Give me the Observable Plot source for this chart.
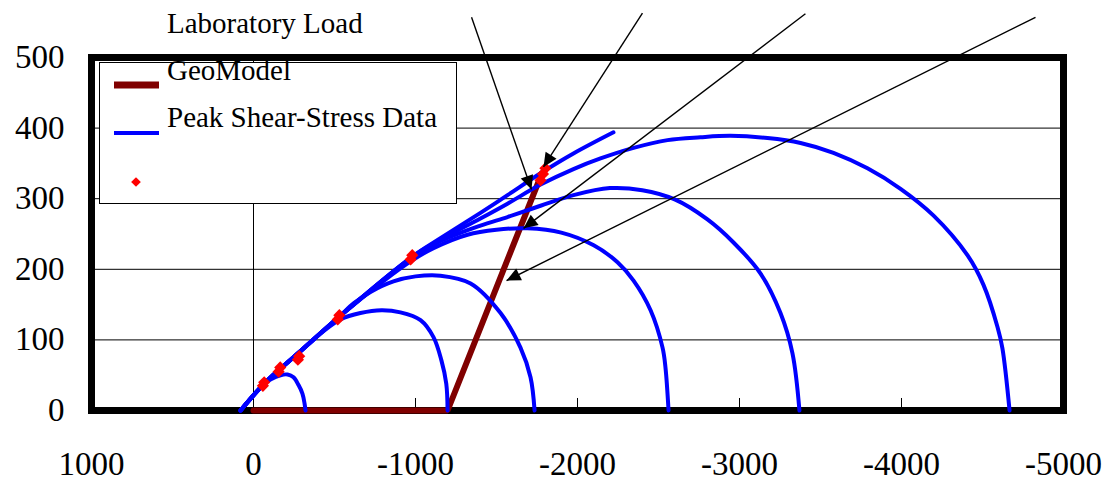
<!DOCTYPE html>
<html>
<head>
<meta charset="utf-8">
<script src="https://cdn.jsdelivr.net/npm/d3@7"></script>
<script src="https://cdn.jsdelivr.net/npm/@observablehq/plot@0.6"></script>
<style>
  html, body { margin: 0; padding: 0; background: white; }
  #wrap { position: relative; width: 1107px; height: 480px; }
  #wrap > svg { position: absolute; left: 0; top: 0; }
  #overlay { position: absolute; left: 0; top: 0; pointer-events: none; }
</style>
</head>
<body>
<div id="wrap"></div>
<script>
// ---- data ----
const xTicks = [1000, 0, -1000, -2000, -3000, -4000, -5000];
const yTicks = [0, 100, 200, 300, 400, 500];
const titleText = "Laboratory Load";
const legendLabels = ["GeoModel", "Peak Shear-Stress Data", ""];

// GeoModel load path (dark red)
const geoModel = [[0, 0], [-1198, 0], [-1780, 336]];

// Peak shear-stress envelope (blue line)
const envelope = [[80, 0], [-62, 37], [-160, 58], [-280, 82], [-525, 132], [-975, 217],
  [-1154, 244], [-1401, 280], [-1568, 305], [-1772, 336], [-1975, 364], [-2222, 394]];

// Yield surfaces (blue curves)
const surfaceA = [[80, 0], [-62, 37], [-105, 44], [-167, 50], [-210, 51], [-247, 47],
  [-278, 36], [-302, 24], [-315, 10], [-321, 0]];
const surfaceB = [[80, 0], [-62, 37], [-160, 58], [-280, 82], [-430, 112], [-537, 129],
  [-660, 138], [-790, 142], [-907, 139], [-1031, 128], [-1111, 104], [-1160, 71], [-1190, 38], [-1198, 0]];
const surfaceC = [[80, 0], [-62, 37], [-160, 58], [-280, 82], [-525, 132], [-620, 152],
  [-722, 168], [-864, 183], [-1000, 190], [-1154, 191], [-1340, 180], [-1525, 138],
  [-1648, 89], [-1710, 47], [-1735, 0]];
const surfaceD = [[80, 0], [-62, 37], [-160, 58], [-280, 82], [-525, 132], [-800, 183],
  [-975, 212], [-1111, 230], [-1321, 249], [-1500, 256], [-1690, 258], [-1900, 252],
  [-2100, 234], [-2247, 210], [-2346, 184], [-2451, 142], [-2525, 89], [-2543, 61], [-2562, 0]];
const surfaceE = [[80, 0], [-62, 37], [-160, 58], [-280, 82], [-525, 132], [-975, 216],
  [-1154, 240], [-1401, 262], [-1568, 274], [-1772, 290], [-1975, 305], [-2200, 315],
  [-2400, 312], [-2600, 299], [-2800, 271], [-2963, 238], [-3130, 194], [-3253, 138],
  [-3327, 81], [-3370, 0]];
const surfaceF = [[80, 0], [-62, 37], [-160, 58], [-280, 82], [-525, 132], [-975, 217],
  [-1154, 242], [-1401, 272], [-1568, 293], [-1772, 320], [-1975, 342], [-2142, 357],
  [-2346, 372], [-2556, 383], [-2759, 387], [-2944, 389], [-3173, 386], [-3377, 379],
  [-3580, 365], [-3790, 343], [-3994, 314], [-4198, 276], [-4407, 220], [-4506, 178],
  [-4593, 118], [-4623, 88], [-4667, 0]];

// Laboratory data points (red diamonds)
const labX = [-58, -66, -155, -165, -274, -282, -520, -530, -970, -980, -1772, -1787, -1802];
const labY = [35, 40, 55, 61, 72, 77, 129, 135, 214, 220, 326, 335, 343];

// Laboratory load arrows: tail -> tip
const arrowX1 = [-1346, -2401, -3407, -4827];
const arrowY1 = [557, 563, 562, 557];
const arrowX2 = [-1716, -1790, -1667, -1562];
const arrowY2 = [313, 345, 258, 184];

// ---- build tables ----
const surfaces = [surfaceA, surfaceB, surfaceC, surfaceD, surfaceE, surfaceF];
const surfaceRows = surfaces.flatMap((s, k) => s.map(([x, y]) => ({x, y, series: k})));
const geoRows = geoModel.map(([x, y]) => ({x, y}));
const envRows = envelope.map(([x, y]) => ({x, y}));
const labRows = labX.map((x, i) => ({x, y: labY[i]}));
const arrowRows = arrowX1.map((x1, i) => ({x1, y1: arrowY1[i], x2: arrowX2[i], y2: arrowY2[i]}));

const BLUE = "#0000ff", DARKRED = "#800000", RED = "#ff0000";
const FONT = "Liberation Serif, Times New Roman, serif";

function triHead(color, context) {
  const ns = "http://www.w3.org/2000/svg";
  const doc = (context && context.document) || document;
  const m = doc.createElementNS(ns, "marker");
  m.setAttribute("viewBox", "-15 -7 16 14");
  m.setAttribute("markerWidth", 16);
  m.setAttribute("markerHeight", 14);
  m.setAttribute("markerUnits", "userSpaceOnUse");
  m.setAttribute("orient", "auto");
  m.setAttribute("refX", 0);
  m.setAttribute("refY", 0);
  const p = doc.createElementNS(ns, "path");
  p.setAttribute("d", "M0,0L-14,-6.5L-14,6.5Z");
  p.setAttribute("fill", color || "black");
  p.setAttribute("stroke", "none");
  m.appendChild(p);
  return m;
}

function build(marker) {
  return Plot.plot({
    width: 1107,
    height: 480,
    marginLeft: 91,
    marginRight: 44,
    marginTop: 57,
    marginBottom: 70,
    style: {fontFamily: FONT, fontSize: "32px", background: "white", color: "black", overflow: "visible"},
    x: {domain: [xTicks[0], xTicks[xTicks.length - 1]]},
    y: {domain: [yTicks[0], yTicks[yTicks.length - 1]]},
    marks: [
      Plot.ruleY(yTicks.slice(1, -1), {stroke: "#000", strokeWidth: 1}),
      Plot.ruleX([0], {stroke: "#000", strokeWidth: 1}),
      Plot.ruleX(xTicks.slice(2, -1), {y1: 0, y2: 17, stroke: "#000", strokeWidth: 1}),
      Plot.frame({stroke: "#000", strokeWidth: 7}),
      Plot.axisY({ticks: yTicks, tickSize: 0, tickPadding: 27, fontSize: 33, tickFormat: d => String(d)}),
      Plot.axisX({ticks: xTicks, tickSize: 0, tickPadding: 41, fontSize: 33, tickFormat: d => String(d)}),
      Plot.line(geoRows, {x: "x", y: "y", stroke: DARKRED, strokeWidth: 6, strokeLinejoin: "miter"}),
      Plot.line(surfaceRows, {x: "x", y: "y", z: "series", stroke: BLUE, strokeWidth: 4, curve: "catmull-rom"}),
      Plot.line(envRows, {x: "x", y: "y", stroke: BLUE, strokeWidth: 4, curve: "catmull-rom"}),
      Plot.dot(labRows, {x: "x", y: "y", symbol: "diamond2", r: 5.5, fill: RED, stroke: "none"}),
      Plot.link(arrowRows, {x1: "x1", y1: "y1", x2: "x2", y2: "y2", stroke: "#000", strokeWidth: 1.4, markerEnd: marker})
    ]
  });
}

let chart;
try { chart = build(triHead); } catch (e) { chart = build("arrow"); }
const wrap = document.getElementById("wrap");
wrap.appendChild(chart);

// ---- legend and title overlay ----
const ov = d3.select(wrap).append("svg")
  .attr("id", "overlay").attr("width", 1107).attr("height", 480)
  .style("font-family", FONT);
ov.append("text").attr("x", 167).attr("y", 33).attr("font-size", 29).attr("fill", "#000").text(titleText);
const lg = ov.append("g");
lg.append("rect").attr("x", 99.5).attr("y", 62.5).attr("width", 357).attr("height", 141)
  .attr("fill", "white").attr("stroke", "#000").attr("stroke-width", 1);
lg.append("line").attr("x1", 114).attr("x2", 159).attr("y1", 85).attr("y2", 85)
  .attr("stroke", DARKRED).attr("stroke-width", 7);
lg.append("line").attr("x1", 114).attr("x2", 159).attr("y1", 133).attr("y2", 133)
  .attr("stroke", BLUE).attr("stroke-width", 4);
lg.append("path").attr("d", d3.symbol(d3.symbolDiamond2, 60)()).attr("transform", "translate(136,182)")
  .attr("fill", RED);
lg.append("text").attr("x", 167).attr("y", 80).attr("font-size", 29).text(legendLabels[0]);
lg.append("text").attr("x", 167).attr("y", 127).attr("font-size", 29).text(legendLabels[1]);
</script>
</body>
</html>
